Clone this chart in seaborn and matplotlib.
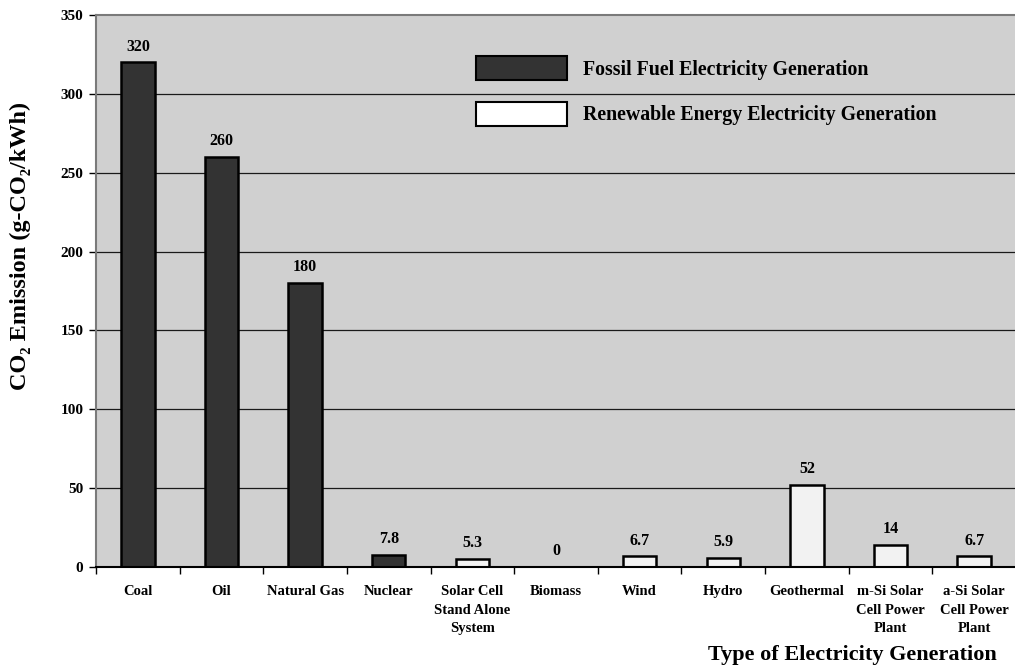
import matplotlib
matplotlib.use("Agg")
import matplotlib.pyplot as plt
from matplotlib.patches import Patch
from matplotlib.ticker import FixedLocator, NullFormatter
import numpy as np
import pandas as pd
import seaborn as sns

# ---- data ----
categories = [
    "Coal", "Oil", "Natural Gas", "Nuclear",
    "Solar Cell\nStand Alone\nSystem", "Biomass", "Wind", "Hydro",
    "Geothermal", "m-Si Solar\nCell Power\nPlant", "a-Si Solar\nCell Power\nPlant",
]
emissions = [320, 260, 180, 7.8, 5.3, 0, 6.7, 5.9, 52, 14, 6.7]
groups = ["Fossil"] * 4 + ["Renewable"] * 7
legend_labels = ["Fossil Fuel Electricity Generation",
                 "Renewable Energy Electricity Generation"]
y_ticks = [0, 50, 100, 150, 200, 250, 300, 350]

df = pd.DataFrame({"type": categories, "co2": emissions, "group": groups})

sns.set_theme(style="white")
plt.rcParams["font.family"] = ["Liberation Serif", "DejaVu Serif"]
plt.rcParams["font.weight"] = "bold"
plt.rcParams["text.color"] = "black"
plt.rcParams["xtick.color"] = "black"
plt.rcParams["ytick.color"] = "black"
plt.rcParams["xtick.labelcolor"] = "black"
plt.rcParams["ytick.labelcolor"] = "black"

DARK = "#333333"
LIGHT = "#F2F2F2"
BG = "#D0D0D0"

W, H = 1015, 672
fig = plt.figure(figsize=(W / 100, H / 100), dpi=100)
left, right, top, bottom = 96, 1016, 15, 567
ax = fig.add_axes([left / W, 1 - bottom / H, (right - left) / W, (bottom - top) / H])
ax.set_facecolor(BG)

sns.barplot(data=df, x="type", y="co2", hue="group", dodge=False,
            palette={"Fossil": DARK, "Renewable": LIGHT}, width=0.4,
            edgecolor="black", linewidth=1.8, legend=False, ax=ax, zorder=3)

ax.set_xlim(-0.5, len(categories) - 0.5)
ax.set_ylim(0, 350)

# horizontal gridlines
ax.set_yticks(y_ticks)
ax.set_yticklabels([str(t) for t in y_ticks], fontsize=11, fontweight="bold")
for t in y_ticks[1:-1]:
    ax.axhline(t, color="#1a1a1a", linewidth=0.9, zorder=1)

# category labels centred, tick marks at category boundaries
ax.set_xticks(range(len(categories)))
ax.set_xticklabels(categories, fontsize=10.5, fontweight="bold", linespacing=1.55)
ax.tick_params(axis="x", which="major", length=0, pad=13)
ax.xaxis.set_minor_locator(FixedLocator(np.arange(-0.5, len(categories), 1.0)))
ax.xaxis.set_minor_formatter(NullFormatter())
ax.tick_params(axis="x", which="minor", bottom=True, length=5, width=1,
               direction="out")
ax.tick_params(axis="y", which="major", left=True, length=5, width=1,
               direction="out", pad=4)

ax.set_xlabel("")
ax.set_ylabel("")

for side in ["top", "left"]:
    ax.spines[side].set_color("#7a7a7a")
    ax.spines[side].set_linewidth(1.5)
ax.spines["right"].set_visible(False)
ax.spines["bottom"].set_color("black")
ax.spines["bottom"].set_linewidth(1.5)
ax.spines["bottom"].set_zorder(4)

# value labels above bars
for i, v in enumerate(emissions):
    ax.annotate(f"{v:g}", (i, v), xytext=(0, 5.5), textcoords="offset points",
                ha="center", va="bottom", fontsize=11.5, fontweight="bold", zorder=5)

# legend
handles = [Patch(facecolor=DARK, edgecolor="black", linewidth=1.5),
           Patch(facecolor="white", edgecolor="black", linewidth=1.5)]
leg = ax.legend(handles, legend_labels, loc="upper left",
                bbox_to_anchor=(476 / W, 1 - 56.5 / H), bbox_transform=fig.transFigure,
                frameon=False, borderpad=0, borderaxespad=0,
                handlelength=4.6, handleheight=1.45, handletextpad=0.8,
                labelspacing=1.1, prop={"size": 14.3, "weight": "bold"})

# axis titles
fig.text(20 / W, 1 - 246 / H, "CO\u2082 Emission (g-CO\u2082/kWh)", rotation=90,
         ha="center", va="center", fontsize=17.5, fontweight="bold")
fig.text(997 / W, 1 - 655 / H, "Type of Electricity Generation",
         ha="right", va="center", fontsize=16, fontweight="bold")

fig.savefig("out.png", dpi=100, facecolor="white")
